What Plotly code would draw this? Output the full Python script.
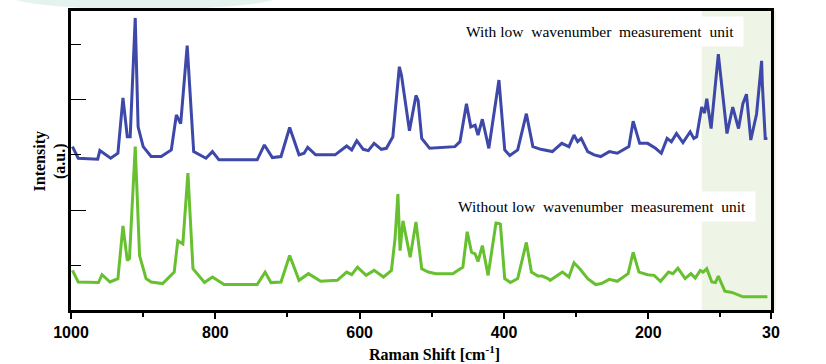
import plotly.graph_objects as go

# ---- data ----
with_wn = [998, 990, 963, 960, 945, 935, 928, 922, 918, 911, 907, 900, 889, 875, 861, 854, 848, 839,
           830, 813, 804, 795, 742, 732, 721, 709, 697, 684, 677, 672, 661, 634, 618, 611, 604, 595,
           588, 580, 570, 563, 554, 545, 542, 531, 522, 519, 514, 505, 503, 468, 461, 452, 446, 440,
           436, 430, 421, 407, 399, 392, 381, 369, 360, 349, 339, 333, 320, 310, 303, 298, 293, 284,
           275, 266, 254, 243, 227, 221, 212, 201, 190, 182, 174, 168, 161, 152, 142, 137, 133, 126,
           122, 119, 113, 103, 91, 83, 75, 69, 64, 58, 50, 43, 42, 38, 35]
with_int = [16.5, 15.33, 15.23, 16.1, 15.33, 15.83, 21.43, 17.5, 17.5, 29.5, 18.5, 16.5, 15.5, 15.5,
            16.17, 19.7, 18.83, 26.7, 16.0, 15.33, 16.0, 15.17, 15.17, 16.67, 15.4, 15.5, 18.43, 15.67,
            15.83, 16.43, 15.67, 15.67, 16.57, 16.17, 17.1, 16.23, 16.1, 16.83, 16.23, 16.33, 17.5,
            24.57, 23.67, 18.1, 21.67, 21.17, 17.33, 16.5, 16.33, 16.5, 17.0, 20.83, 18.5, 18.67,
            17.67, 19.27, 16.33, 23.23, 16.17, 15.6, 16.17, 19.83, 16.5, 16.23, 16.1, 16.0, 16.83,
            16.5, 17.67, 17.0, 17.33, 16.0, 15.67, 15.5, 16.0, 15.83, 16.5, 19.07, 16.83, 16.83,
            16.33, 15.83, 17.33, 17.0, 17.83, 16.9, 18.0, 17.33, 17.5, 20.5, 19.9, 21.33, 18.33,
            25.83, 17.83, 20.5, 18.33, 20.83, 21.8, 17.17, 19.8, 25.17, 22.83, 17.33, 17.33]

without_wn = [998, 990, 962, 957, 946, 935, 928, 922, 919, 911, 905, 896, 889, 873, 857, 852, 845, 838,
              831, 815, 804, 788, 742, 731, 723, 709, 697, 684, 671, 654, 631, 618, 611, 603, 591,
              580, 567, 556, 551, 547, 544, 540, 530, 522, 514, 505, 494, 471, 457, 451, 445, 440,
              436, 430, 422, 411, 405, 399, 391, 381, 369, 362, 353, 347, 339, 336, 319, 310, 303,
              295, 284, 273, 265, 254, 243, 228, 221, 213, 201, 192, 183, 172, 166, 159, 149, 141,
              135, 128, 124, 119, 112, 107, 103, 94, 84, 77, 69, 35]
without_int = [4.0, 2.83, 2.77, 3.57, 2.83, 3.17, 8.5, 5.0, 5.2, 16.5, 5.5, 3.17, 2.83, 2.67, 3.83,
               7.0, 6.67, 13.83, 4.17, 2.77, 3.33, 2.57, 2.57, 3.83, 2.77, 2.83, 5.5, 3.0, 3.67,
               2.9, 3.0, 3.83, 3.57, 4.33, 3.5, 4.0, 3.33, 4.0, 7.17, 11.7, 6.0, 9.0, 5.33, 8.9,
               4.17, 3.83, 3.67, 3.67, 4.33, 7.9, 5.83, 5.67, 4.9, 6.5, 3.5, 8.83, 8.67, 3.17,
               2.77, 3.17, 6.83, 3.83, 3.43, 3.43, 3.17, 3.0, 3.83, 3.33, 4.77, 4.17, 3.17, 2.57,
               2.67, 3.1, 2.9, 3.67, 5.83, 3.83, 3.57, 3.5, 2.9, 3.83, 3.67, 4.23, 3.17, 3.67,
               3.23, 4.0, 3.83, 4.17, 2.83, 2.77, 3.43, 1.9, 1.77, 1.57, 1.33, 1.33]

x_tick_vals = [1000, 800, 600, 400, 200, 30]
x_tick_text = ["1000", "800", "600", "400", "200", "30"]
x_minor_vals = [900, 700, 500, 300, 100]
y_major_vals = [10.1, 21.3]
y_minor_vals = [4.5, 15.7, 26.8]

label_with = "With low\u00a0 wavenumber\u00a0 measurement\u00a0 unit\u00a0"
label_without = "Without low\u00a0 wavenumber\u00a0 measurement\u00a0 unit\u00a0"

BLUE = "#3d48a8"
GREEN = "#67c02f"

fig = go.Figure()
fig.add_trace(go.Scatter(x=with_wn, y=with_int, mode="lines",
                         line=dict(color=BLUE, width=3), showlegend=False))
fig.add_trace(go.Scatter(x=without_wn, y=without_int, mode="lines",
                         line=dict(color=GREEN, width=3), showlegend=False))

# shaded low-wavenumber region
fig.add_shape(type="rect", xref="paper", yref="paper", x0=0.901, x1=1.007, y0=0.0, y1=1.0,
              fillcolor="#eff5e6", line=dict(width=0), layer="below")
# faint decorative arc at top-left
fig.add_shape(type="circle", xref="paper", yref="paper", x0=-0.09, x1=0.30, y0=1.005, y1=1.10,
              fillcolor="#e4f3ef", line=dict(width=0), layer="below")

fig.update_layout(
    width=826, height=364,
    margin=dict(l=71, r=55, t=8, b=54),
    paper_bgcolor="white", plot_bgcolor="rgba(0,0,0,0)",
    xaxis=dict(range=[1000, 30], showgrid=False, zeroline=False,
               showline=True, linecolor="black", linewidth=3, mirror=True,
               tickmode="array", tickvals=x_tick_vals, ticktext=x_tick_text,
               ticks="outside", ticklen=6, tickwidth=1.5, tickcolor="black",
               minor=dict(tickmode="array", tickvals=x_minor_vals, ticks="outside",
                          ticklen=4, tickwidth=1.5, tickcolor="black"),
               tickfont=dict(family="Liberation Sans", size=16, color="black", weight="bold")),
    yaxis=dict(range=[0, 30.2], showgrid=False, zeroline=False,
               showline=True, linecolor="black", linewidth=3, mirror=True,
               tickmode="array", tickvals=y_major_vals, showticklabels=False,
               ticks="inside", ticklen=15, tickwidth=1.3, tickcolor="black",
               minor=dict(tickmode="array", tickvals=y_minor_vals, ticks="inside",
                          ticklen=10, tickwidth=1.3, tickcolor="black")),
)

fig.add_annotation(xref="paper", yref="paper", x=0.961, y=0.932, xanchor="right", yanchor="middle",
                   text=label_with, showarrow=False, bgcolor="white", borderpad=6,
                   font=dict(family="Liberation Serif", size=15.5, color="black"))
fig.add_annotation(xref="paper", yref="paper", x=0.9786, y=0.346, xanchor="right", yanchor="middle",
                   text=label_without, showarrow=False, bgcolor="white", borderpad=6,
                   font=dict(family="Liberation Serif", size=15.5, color="black"))
fig.add_annotation(xref="paper", yref="paper", x=(434 - 71) / 700, y=(310 - 353) / 302,
                   xanchor="center", yanchor="middle",
                   text="<b>Raman Shift [cm<sup>-1</sup>]</b>", showarrow=False,
                   font=dict(family="Liberation Serif", size=16, color="black"))
fig.add_annotation(xref="paper", yref="paper", x=(50 - 71) / 700, y=(310 - 160) / 302,
                   xanchor="center", yanchor="middle", textangle=-90,
                   text="<b>Intensity<br>(a.u.)</b>", showarrow=False,
                   font=dict(family="Liberation Serif", size=16, color="black"))

fig.write_html("out.html", config={"displayModeBar": False},
               post_script="document.body.style.margin='0';")
